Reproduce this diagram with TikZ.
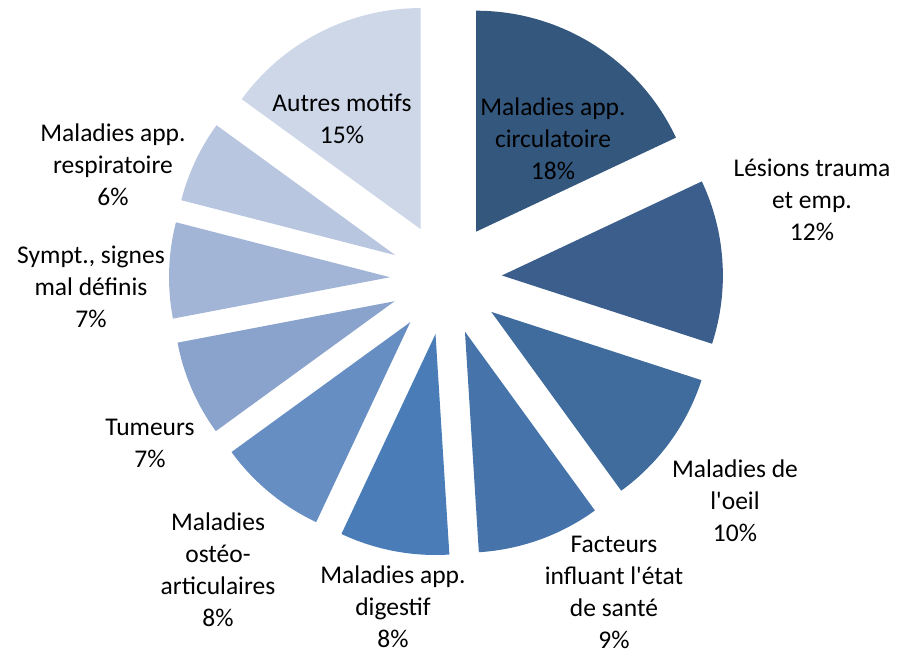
\documentclass[tikz,border=0pt]{standalone}
\usepackage{fontspec}
\setmainfont{Carlito}[Ligatures=TeXOff]
\usepackage{tikz}
\definecolor{circcol}{HTML}{34577E}
\definecolor{lesicol}{HTML}{3B5E8C}
\definecolor{oeilcol}{HTML}{406B9D}
\definecolor{factcol}{HTML}{4674AA}
\definecolor{digecol}{HTML}{4A7DB7}
\definecolor{ostecol}{HTML}{678EC2}
\definecolor{tumecol}{HTML}{8AA3CC}
\definecolor{sympcol}{HTML}{A3B5D6}
\definecolor{respcol}{HTML}{B9C6E0}
\definecolor{autrcol}{HTML}{CDD7E8}
\tikzset{lbl/.style={align=center,font=\fontsize{25.5}{32}\selectfont,inner sep=0pt}}

\begin{document}
\begin{tikzpicture}[x=1pt,y=1pt]
\useasboundingbox(0,0) rectangle (898,655);
\coordinate (c) at (446,376);
\fill[circcol](c) ++(57.6:56) -- ++(90:221) arc[start angle=90,end angle=25.2,radius=221] -- cycle;
\fill[lesicol](c) ++(3.6:56) -- ++(25.2:221) arc[start angle=25.2,end angle=-18,radius=221] -- cycle;
\fill[oeilcol](c) ++(-36:56) -- ++(-18:221) arc[start angle=-18,end angle=-54,radius=221] -- cycle;
\fill[factcol](c) ++(-70.2:56) -- ++(-54:221) arc[start angle=-54,end angle=-86.4,radius=221] -- cycle;
\fill[digecol](c) ++(-100.8:56) -- ++(-86.4:221) arc[start angle=-86.4,end angle=-115.2,radius=221] -- cycle;
\fill[ostecol](c) ++(-129.6:56) -- ++(-115.2:221) arc[start angle=-115.2,end angle=-144,radius=221] -- cycle;
\fill[tumecol](c) ++(-156.6:56) -- ++(-144:221) arc[start angle=-144,end angle=-169.2,radius=221] -- cycle;
\fill[sympcol](c) ++(-181.8:56) -- ++(-169.2:221) arc[start angle=-169.2,end angle=-194.4,radius=221] -- cycle;
\fill[respcol](c) ++(154.8:56) -- ++(165.6:221) arc[start angle=165.6,end angle=144,radius=221] -- cycle;
\fill[autrcol](c) ++(117:56) -- ++(144:221) arc[start angle=144,end angle=90,radius=221] -- cycle;
\node[lbl] (circ) at (553,516) {Maladies app.\\circulatoire\\18\%};
\node[lbl] (lesi) at (812,455) {Lésions trauma\\et emp.\\12\%};
\node[lbl] (oeil) at (735,154) {Maladies de\\l'oeil\\10\%};
\node[lbl] (fact) at (614,63) {Facteurs\\influant l'état\\de santé\\9\%};
\node[lbl] (dige) at (393,48) {Maladies app.\\digestif\\8\%};
\node[lbl] (oste) at (218,85) {Maladies\\ostéo-\\articulaires\\8\%};
\node[lbl] (tume) at (150,212) {Tumeurs\\7\%};
\node[lbl] (symp) at (91,368) {Sympt., signes\\mal définis\\7\%};
\node[lbl] (resp) at (113,490) {Maladies app.\\respiratoire\\6\%};
\node[lbl] (autr) at (342,536) {Autres motifs\\15\%};
\end{tikzpicture}
\end{document}
